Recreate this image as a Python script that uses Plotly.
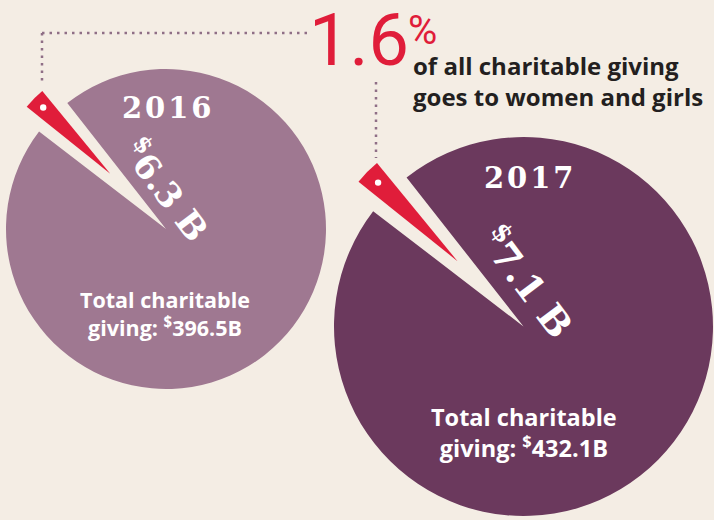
import math
import plotly.graph_objects as go

# ---- data ----
years = ["2016", "2017"]
women_girls_b = [6.3, 7.1]          # $B to women and girls
total_giving_b = [396.5, 432.1]     # $B total charitable giving
share_label = "1.6%"
gap_pct_shown = [4.0, 4.0]          # exaggerated slice gap as drawn (% of circle)
wedge_pct_shown = [3.3, 3.3]        # red wedge as drawn (% of circle)

# ---- style / layout ----
W, H = 714, 520
BG = "#f4ede4"
PIE_COLORS = ["#9f7891", "#6b395d"]
RED = "#e01d3a"
DOT = "#8f6f86"
centers = [(166, 229), (523.5, 326.5)]
radii = [160, 189.5]
wedge_dir = -45.3                  # degrees clockwise from 12 o'clock
pull_frac = 0.49
wedge_r_frac = 0.67


def px_dom(cx, cy, r):
    return dict(x=[(cx - r) / W, (cx + r) / W], y=[1 - (cy + r) / H, 1 - (cy - r) / H])


fig = go.Figure()
shapes = []
for i in range(2):
    cx, cy = centers[i]
    r = radii[i]
    g = gap_pct_shown[i]
    fig.add_trace(go.Pie(
        values=[g, 100 - g], sort=False, direction="clockwise",
        rotation=wedge_dir - g * 3.6 / 2,
        marker=dict(colors=[BG, PIE_COLORS[i]], line=dict(width=0)),
        textinfo="none", hoverinfo="skip", showlegend=False,
        domain=px_dom(cx, cy, r)))
    # red wedge, pulled outward along the bisector
    a = math.radians(wedge_dir)
    d = pull_frac * r
    tx, ty = cx + d * math.sin(a), cy - d * math.cos(a)
    wr = wedge_r_frac * r
    w = wedge_pct_shown[i]
    fig.add_trace(go.Pie(
        values=[w, 100 - w], sort=False, direction="clockwise",
        rotation=wedge_dir - w * 3.6 / 2,
        marker=dict(colors=[RED, "rgba(0,0,0,0)"], line=dict(width=0)),
        textinfo="none", hoverinfo="skip", showlegend=False,
        domain=px_dom(tx, ty, wr)))
    # white dot near the outer end of the wedge
    dr = 0.88 * wr
    dx, dy = tx + dr * math.sin(a), ty - dr * math.cos(a)
    rr = 3.2
    shapes.append(dict(type="circle", xref="paper", yref="paper",
                       x0=(dx - rr) / W, x1=(dx + rr) / W,
                       y0=1 - (dy + rr) / H, y1=1 - (dy - rr) / H,
                       fillcolor="white", line=dict(width=0)))


def pline(x0, y0, x1, y1):
    return dict(type="line", xref="paper", yref="paper",
                x0=x0 / W, x1=x1 / W, y0=1 - y0 / H, y1=1 - y1 / H,
                line=dict(color=DOT, width=2.5, dash="2.5px,5px"))


shapes += [pline(42, 33, 312, 33), pline(42, 33, 42, 82), pline(376, 82, 376, 158)]

ann = []


def A(text, x, y, size, color="white", family="DejaVu Serif", angle=0,
      xanchor="center", align="center"):
    ann.append(dict(text=text, x=x / W, y=1 - y / H, xref="paper", yref="paper",
                    showarrow=False, xanchor=xanchor, yanchor="middle", align=align,
                    textangle=angle, font=dict(size=size, color=color, family=family)))


SANS = "Open Sans"
HS = "\u200a"
A("<b>" + HS.join(years[0]) + "</b>", 166, 108, 29)
A("<b>" + HS.join(years[1]) + "</b>", 528, 178, 29)
A("<b><sup>$</sup>%.1f B</b>" % women_girls_b[0], 167, 189, 34, angle=53)
A("<b><sup>$</sup>%.1f B</b>" % women_girls_b[1], 528, 281, 37, angle=53)
A("<b>Total charitable<br>giving: <sup>$</sup>%.1fB</b>" % total_giving_b[0], 165, 313, 21.5, family=SANS)
A("<b>Total charitable<br>giving: <sup>$</sup>%.1fB</b>" % total_giving_b[1], 524, 432, 23.5, family=SANS)
A(share_label[:-1], 359, 41, 72, color=RED, family="Roboto")
A(share_label[-1], 422, 30, 40, color=RED, family="Roboto")
A("<b>of all charitable giving<br>goes to women and girls</b>", 411, 81, 24,
  color="#231f20", family=SANS, xanchor="left", align="left")

fig.update_layout(width=W, height=H, margin=dict(l=0, r=0, t=0, b=0),
                  paper_bgcolor=BG, plot_bgcolor=BG, shapes=shapes, annotations=ann)
fig.write_html("out.html")
